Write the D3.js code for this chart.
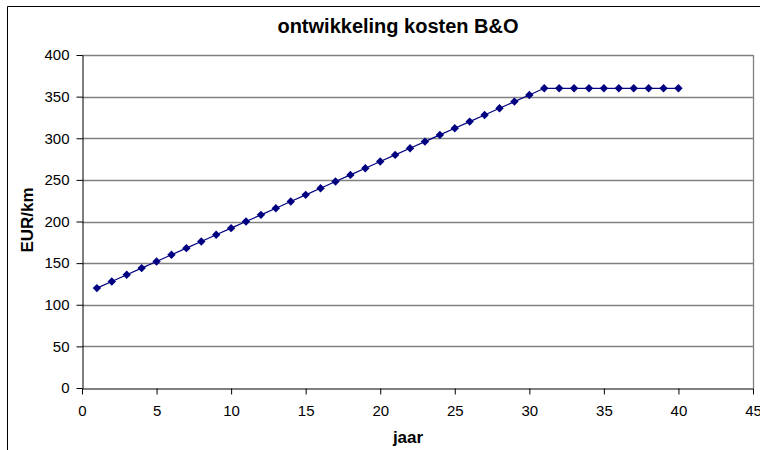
<!DOCTYPE html>
<html><head><meta charset="utf-8">
<script src="https://cdn.jsdelivr.net/npm/d3@7"></script>
<style>
body{margin:0;background:#fff;}
svg{display:block;font-family:"Liberation Sans",Arial,sans-serif;}
</style></head><body>
<svg id="c" width="760" height="450"></svg>
<script>
const years = [1,2,3,4,5,6,7,8,9,10,11,12,13,14,15,16,17,18,19,20,21,22,23,24,25,26,27,28,29,30,31,32,33,34,35,36,37,38,39,40];
const costs = [120,128,136,144,152,160,168,176,184,192,200,208,216,224,232,240,248,256,264,272,280,288,296,304,312,320,328,336,344,352,360,360,360,360,360,360,360,360,360,360];
const xTicks = [0,5,10,15,20,25,30,35,40,45];
const yTicks = [0,50,100,150,200,250,300,350,400];
const title = "ontwikkeling kosten B&O";
const xTitle = "jaar";
const yTitle = "EUR/km";

const svg = d3.select("#c");
const L=82, R=753, T=55, B=388;
const x = d3.scaleLinear().domain([0,45]).range([L,R]);
const y = d3.scaleLinear().domain([0,400]).range([B,T]);

// outer frame
svg.append("line").attr("x1",7.5).attr("x2",760).attr("y1",6.5).attr("y2",6.5).attr("stroke","#000");
svg.append("line").attr("x1",7.5).attr("x2",7.5).attr("y1",6.5).attr("y2",450).attr("stroke","#000");

// gridlines
svg.append("g").selectAll("line").data(yTicks.filter(d=>d>0)).join("line")
  .attr("x1",L).attr("x2",R).attr("y1",d=>Math.round(y(d))+0.5).attr("y2",d=>Math.round(y(d))+0.5)
  .attr("stroke","#808080").attr("stroke-width",1.3);
// right border of plot
svg.append("line").attr("x1",R+0.5).attr("x2",R+0.5).attr("y1",T).attr("y2",B).attr("stroke","#808080").attr("stroke-width",1.3);

// axes
const xa = svg.append("g").attr("transform",`translate(0,${B+0.5})`)
  .call(d3.axisBottom(x).tickValues(xTicks).tickSize(6).tickPadding(11).tickSizeOuter(0));
const ya = svg.append("g").attr("transform",`translate(${L+0.5},0)`)
  .call(d3.axisLeft(y).tickValues(yTicks).tickSize(6).tickPadding(7).tickSizeOuter(0));
[xa,ya].forEach(a=>{
  a.select(".domain").attr("stroke","#000");
  a.selectAll(".tick line").attr("stroke","#000");
  a.selectAll("text").attr("font-size",15).attr("fill","#000").attr("font-family","Liberation Sans, Arial, sans-serif");
});

// line
svg.append("path").datum(years.map((d,i)=>[d,costs[i]]))
  .attr("fill","none").attr("stroke","#000080").attr("stroke-width",1.2)
  .attr("d",d3.line().x(d=>x(d[0])).y(d=>y(d[1])));
svg.append("g").selectAll("path").data(years.map((d,i)=>[d,costs[i]])).join("path")
  .attr("d","M0,-4.2L4.2,0L0,4.2L-4.2,0Z").attr("fill","#000080")
  .attr("transform",d=>`translate(${x(d[0])},${y(d[1])})`);

// titles
svg.append("text").attr("x",398).attr("y",33).attr("text-anchor","middle")
  .attr("font-size",20).attr("font-weight","bold").text(title);
svg.append("text").attr("x",408).attr("y",443).attr("text-anchor","middle")
  .attr("font-size",17).attr("font-weight","bold").text(xTitle);
svg.append("text").attr("transform",`translate(33,220) rotate(-90)`).attr("text-anchor","middle")
  .attr("font-size",17).attr("font-weight","bold").text(yTitle);
</script>
</body></html>
